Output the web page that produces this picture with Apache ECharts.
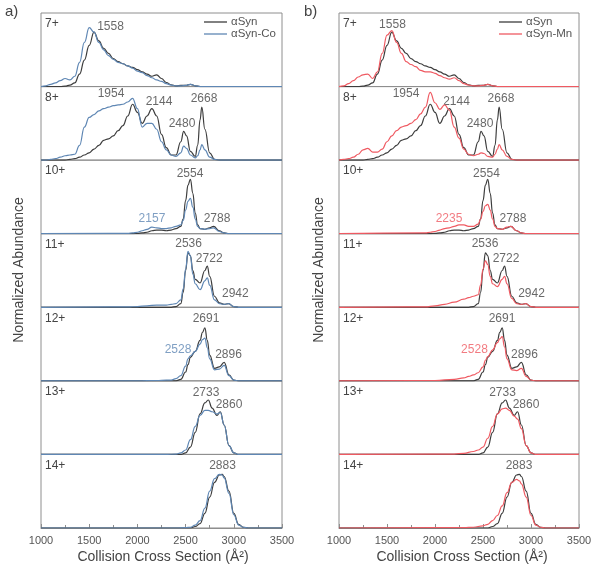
<!DOCTYPE html>
<html>
<head>
<meta charset="utf-8">
<style>
  html, body { margin: 0; padding: 0; background: #fff; }
  #main { width: 600px; height: 569px; }
</style>
</head>
<body>
<div id="main"></div>
<script src="https://cdn.jsdelivr.net/npm/echarts@6/dist/echarts.min.js"></script>
<script type="text/javascript">
// charge states, top to bottom
var charges = ['7+', '8+', '10+', '11+', '12+', '13+', '14+'];

// CCS sample points (Å²) for each charge state
var x7  = [1000,1050,1100,1150,1200,1250,1300,1350,1400,1450,1500,1550,1600,1650,1700,1750,1800,1850,1900,1950,2000,2050,2100,2150,2200,2250,2300,2350,2400,2450,2500,2550,2600,2650,2700,3500];
var x8  = [1000,1050,1100,1150,1200,1250,1300,1350,1400,1450,1500,1550,1600,1650,1700,1750,1800,1850,1900,1950,2000,2050,2100,2150,2200,2250,2300,2350,2400,2450,2480,2510,2550,2600,2625,2650,2668,2700,2750,2800,2850,3500];
var x10 = [1000,1900,1950,2000,2050,2100,2150,2200,2250,2300,2350,2400,2450,2475,2500,2525,2550,2575,2600,2625,2650,2700,2750,2790,2850,2900,2950,3500];
var x11 = [1000,1900,2000,2100,2200,2300,2350,2400,2450,2475,2500,2525,2550,2575,2600,2650,2700,2725,2750,2800,2850,2900,2945,3000,3050,3500];
var x12 = [1000,2000,2200,2300,2350,2400,2450,2500,2525,2550,2600,2650,2675,2700,2725,2750,2800,2850,2900,2950,3000,3050,3500];
var x13 = [1000,2200,2300,2400,2450,2500,2550,2600,2650,2700,2735,2775,2825,2860,2900,2950,3000,3050,3500];
var x14 = [1000,2300,2400,2500,2550,2600,2650,2700,2750,2800,2850,2880,2900,2950,3000,3050,3100,3150,3500];

// aSyn (apo)
var syn7  = [0,0,0,0,0,0.005,0.02,0.05,0.17,0.36,0.56,0.74,0.62,0.52,0.45,0.38,0.34,0.31,0.28,0.26,0.23,0.2,0.17,0.14,0.16,0.11,0.055,0.025,0.01,0.015,0.015,0.03,0.01,0,0,0];
var syn8  = [0,0,0,0,0,0,0.01,0.02,0.04,0.07,0.1,0.15,0.2,0.27,0.29,0.33,0.4,0.47,0.6,0.76,0.65,0.5,0.6,0.7,0.6,0.35,0.17,0.07,0.07,0.25,0.39,0.33,0.12,0.05,0.2,0.55,0.72,0.42,0.1,0.01,0,0];
var syn10 = [0,0,0,0.005,0.01,0.02,0.04,0.05,0.05,0.04,0.05,0.07,0.1,0.2,0.45,0.66,0.74,0.55,0.28,0.12,0.07,0.06,0.08,0.1,0.04,0.01,0,0];
var syn11 = [0,0,0,0,0,0,0,0.01,0.05,0.2,0.5,0.74,0.7,0.5,0.38,0.33,0.5,0.56,0.42,0.15,0.06,0.04,0.05,0.01,0,0];
var syn12 = [0,0,0,0,0,0,0.02,0.12,0.22,0.32,0.4,0.55,0.66,0.72,0.55,0.35,0.17,0.19,0.25,0.08,0.01,0,0];
var syn13 = [0,0,0,0,0,0.02,0.1,0.3,0.55,0.7,0.74,0.63,0.53,0.58,0.4,0.12,0.02,0,0];
var syn14 = [0,0,0,0,0,0.02,0.06,0.2,0.42,0.62,0.72,0.73,0.7,0.5,0.2,0.05,0.01,0,0];

// aSyn-Co
var co7  = [0,0.01,0.03,0.05,0.08,0.11,0.09,0.14,0.33,0.6,0.8,0.74,0.6,0.5,0.42,0.37,0.33,0.31,0.28,0.25,0.21,0.19,0.15,0.12,0.09,0.07,0.04,0.02,0.01,0.01,0.015,0.03,0.01,0,0,0];
var co8  = [0,0,0.01,0.02,0.04,0.06,0.07,0.08,0.2,0.45,0.58,0.62,0.67,0.7,0.72,0.74,0.75,0.76,0.79,0.84,0.7,0.45,0.5,0.5,0.42,0.25,0.14,0.07,0.05,0.1,0.19,0.16,0.07,0.03,0.06,0.14,0.21,0.14,0.04,0.01,0,0];
var co10 = [0,0.005,0.01,0.02,0.04,0.06,0.09,0.08,0.07,0.07,0.08,0.1,0.12,0.18,0.32,0.44,0.48,0.36,0.2,0.1,0.07,0.06,0.07,0.08,0.03,0.01,0,0];
var co11 = [0,0.005,0.01,0.02,0.03,0.03,0.04,0.05,0.1,0.25,0.52,0.76,0.7,0.45,0.32,0.24,0.36,0.4,0.3,0.1,0.05,0.04,0.05,0.01,0,0];
var co12 = [0,0,0.005,0.01,0.01,0.03,0.07,0.2,0.3,0.34,0.4,0.5,0.56,0.58,0.45,0.3,0.15,0.16,0.21,0.07,0.01,0,0];
var co13 = [0,0,0,0.005,0.02,0.06,0.2,0.38,0.53,0.6,0.6,0.58,0.55,0.57,0.4,0.12,0.02,0,0];
var co14 = [0,0,0,0.005,0.01,0.04,0.1,0.27,0.5,0.67,0.73,0.72,0.68,0.47,0.18,0.04,0.01,0,0];

// aSyn-Mn
var mn7  = [0,0.01,0.04,0.08,0.13,0.16,0.17,0.11,0.2,0.45,0.7,0.76,0.6,0.45,0.34,0.3,0.27,0.22,0.2,0.2,0.18,0.15,0.12,0.1,0.12,0.08,0.04,0.02,0.01,0.01,0.015,0.03,0.01,0,0,0];
var mn8  = [0,0.01,0.02,0.04,0.08,0.14,0.16,0.11,0.11,0.15,0.25,0.33,0.4,0.45,0.47,0.5,0.55,0.63,0.72,0.92,0.78,0.69,0.75,0.68,0.45,0.3,0.15,0.08,0.06,0.08,0.1,0.09,0.05,0.04,0.08,0.15,0.21,0.14,0.05,0.01,0,0];
var mn10 = [0,0.01,0.02,0.03,0.05,0.07,0.08,0.1,0.12,0.12,0.1,0.1,0.13,0.2,0.3,0.38,0.4,0.32,0.2,0.1,0.07,0.06,0.09,0.1,0.04,0.01,0,0];
var mn11 = [0,0.005,0.02,0.04,0.07,0.11,0.13,0.15,0.17,0.3,0.52,0.63,0.58,0.42,0.32,0.28,0.38,0.42,0.32,0.12,0.05,0.04,0.05,0.01,0,0];
var mn12 = [0,0.005,0.02,0.04,0.06,0.08,0.11,0.19,0.28,0.33,0.42,0.52,0.57,0.6,0.46,0.3,0.15,0.14,0.17,0.06,0.01,0,0];
var mn13 = [0,0.005,0.015,0.04,0.06,0.1,0.22,0.38,0.55,0.62,0.63,0.6,0.52,0.48,0.35,0.12,0.02,0,0];
var mn14 = [0,0.005,0.01,0.03,0.05,0.1,0.17,0.3,0.48,0.62,0.66,0.64,0.6,0.42,0.17,0.04,0.01,0,0];

// peak labels: [row, ccs, height, text, coloured?]
var peaksCo = [
  [0, 1721, 0.81, '1558', 0], [1, 1726, 0.91, '1954', 0], [1, 2224, 0.80, '2144', 0],
  [1, 2463, 0.49, '2480', 0], [1, 2691, 0.83, '2668', 0], [2, 2546, 0.82, '2554', 0],
  [2, 2151, 0.20, '2157', 1], [2, 2826, 0.21, '2788', 0], [3, 2531, 0.86, '2536', 0],
  [3, 2745, 0.66, '2722', 0], [3, 3016, 0.19, '2942', 0], [4, 2712, 0.84, '2691', 0],
  [4, 2421, 0.42, '2528', 1], [4, 2945, 0.36, '2896', 0], [5, 2712, 0.84, '2733', 0],
  [5, 2950, 0.68, '2860', 0], [6, 2883, 0.85, '2883', 0]
];
var peaksMn = [
  [0, 1557, 0.84, '1558', 0], [1, 1698, 0.90, '1954', 0], [1, 2224, 0.80, '2144', 0],
  [1, 2469, 0.49, '2480', 0], [1, 2687, 0.83, '2668', 0], [2, 2536, 0.82, '2554', 0],
  [2, 2146, 0.20, '2235', 1], [2, 2812, 0.21, '2788', 0], [3, 2521, 0.86, '2536', 0],
  [3, 2740, 0.66, '2722', 0], [3, 3005, 0.19, '2942', 0], [4, 2698, 0.84, '2691', 0],
  [4, 2411, 0.42, '2528', 1], [4, 2932, 0.36, '2896', 0], [5, 2703, 0.84, '2733', 0],
  [5, 2948, 0.68, '2860', 0], [6, 2875, 0.85, '2883', 0]
];

var xs = [x7, x8, x10, x11, x12, x13, x14];
var syn = [syn7, syn8, syn10, syn11, syn12, syn13, syn14];
var co = [co7, co8, co10, co11, co12, co13, co14];
var mn = [mn7, mn8, mn10, mn11, mn12, mn13, mn14];

var FONT = 'Liberation Sans, Arial, sans-serif';
var DARK = '#3d3d3d';
var TXT = '#444';

var panels = [
  { left: 41, width: 241, other: co, name: 'αSyn-Co', color: '#5f87b4', peaks: peaksCo, tag: 'a)', tagX: 5, yLabX: 19, midX: 163, legX: 204 },
  { left: 339, width: 240, other: mn, name: 'αSyn-Mn', color: '#ef5a62', peaks: peaksMn, tag: 'b)', tagX: 304, yLabX: 319, midX: 462, legX: 499 }
];

var top0 = 13, rowH = 73.57;
var grids = [], xAxes = [], yAxes = [], series = [], titles = [], graphics = [], legends = [];

function pairs(x, y) {
  return x.map(function (v, k) { return [v, y[k]]; });
}

panels.forEach(function (p, pi) {
  charges.forEach(function (c, i) {
    var g = pi * 7 + i;
    grids.push({
      left: p.left, top: top0 + i * rowH, width: p.width, height: rowH,
      show: true, borderColor: '#8e8e8e', borderWidth: 1
    });
    xAxes.push({
      type: 'value', gridIndex: g, min: 1000, max: 3500, interval: 500,
      show: i === 6,
      axisLine: { lineStyle: { color: '#8e8e8e' } },
      axisTick: { inside: true, length: 4, lineStyle: { color: '#8e8e8e' } },
      minorTick: { show: true, splitNumber: 2, length: 3, lineStyle: { color: '#8e8e8e' } },
      splitLine: { show: false },
      axisLabel: { fontSize: 11, color: '#555', fontFamily: FONT, margin: 7, formatter: function (v) { return String(v); } }
    });
    yAxes.push({ type: 'value', gridIndex: g, min: 0, max: 1, show: false });

    series.push({
      type: 'line', name: 'αSyn', xAxisIndex: g, yAxisIndex: g,
      data: pairs(xs[i], syn[i]), symbol: 'none', smooth: 0.45, smoothMonotone: 'x',
      lineStyle: { width: 1.2, color: DARK }, itemStyle: { color: DARK }, silent: true
    });
    series.push({
      type: 'line', name: p.name, xAxisIndex: g, yAxisIndex: g,
      data: pairs(xs[i], p.other[i]), symbol: 'none', smooth: 0.45, smoothMonotone: 'x',
      lineStyle: { width: 1.2, color: p.color }, itemStyle: { color: p.color }, silent: true
    });
    series.push({
      type: 'scatter', xAxisIndex: g, yAxisIndex: g, symbolSize: 0, silent: true,
      data: p.peaks.filter(function (d) { return d[0] === i; }).map(function (d) {
        return {
          name: d[3], value: [d[1], d[2]],
          label: { color: d[4] ? p.color : TXT }
        };
      }),
      label: { show: true, position: 'inside', formatter: '{b}', fontSize: 12, fontFamily: FONT }
    });

    titles.push({
      text: c, left: p.left + 4, top: top0 + i * rowH + 5, padding: 0,
      textStyle: { fontSize: 12, fontWeight: 'normal', color: TXT, fontFamily: FONT }
    });
  });

  legends.push({
    data: ['αSyn', p.name], orient: 'vertical', left: p.legX, top: 16,
    icon: 'rect', itemWidth: 23, itemHeight: 1.3, itemGap: 0, padding: 0,
    textStyle: { fontSize: 11.5, color: '#555', fontFamily: FONT, padding: [0, 0, 0, -1] }
  });

  graphics.push({
    type: 'text', x: p.tagX, y: 4,
    style: { text: p.tag, font: '15px ' + FONT, fill: TXT }
  });
  graphics.push({
    type: 'text', x: p.yLabX, y: 270, rotation: Math.PI / 2,
    style: { text: 'Normalized Abundance', font: '14px ' + FONT, fill: TXT, textAlign: 'center', textVerticalAlign: 'middle' }
  });
  graphics.push({
    type: 'text', x: p.midX, y: 557,
    style: { text: 'Collision Cross Section (Å²)', font: '14px ' + FONT, fill: TXT, textAlign: 'center', textVerticalAlign: 'middle' }
  });
});

var myChart = echarts.init(document.getElementById('main'));
myChart.setOption({
  animation: false,
  title: titles,
  legend: legends,
  grid: grids,
  xAxis: xAxes,
  yAxis: yAxes,
  series: series,
  graphic: graphics
});
</script>
</body>
</html>
